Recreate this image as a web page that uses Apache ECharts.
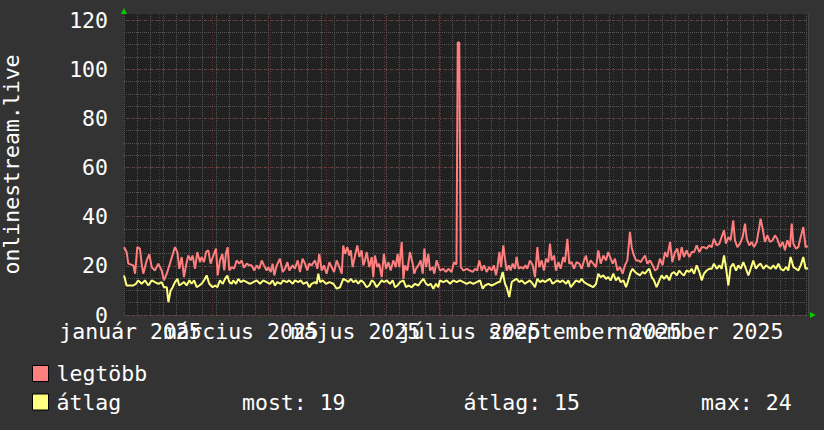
<!DOCTYPE html>
<html><head><meta charset="utf-8">
<script src="https://cdn.jsdelivr.net/npm/echarts@6/dist/echarts.min.js"></script>
<style>html,body{margin:0;padding:0;background:#333333;}#c{width:824px;height:430px;}</style>
</head><body><div id="c"></div>
<script>
// ---- data (x = days since 13 Jan 2025) ----
const seriesNames = ['legtöbb', 'átlag'];
const yAxisTitle = 'onlinestream.live';
const monthStartDays = [19, 47, 78, 108, 139, 169, 200, 231, 261, 292, 322, 353];
const labelDaysA = [3.5, 123.5, 246];
const labelTextsA = ['január 2025', 'május 2025', 'szeptember 2025'];
const labelDaysB = [62.5, 184.5, 307];
const labelTextsB = ['március 2025', 'július 2025', 'november 2025'];
const statTexts = ['most: 19', 'átlag: 15', 'max: 24'];

const maxDays = [0,1.4,2.3,5.0,5.9,7.1,8.5,9.4,10.3,12.1,13.5,14.8,16.5,18.3,20.1,21.3,22.8,24.5,27.2,28.5,29.5,30.8,32.0,33.1,34.3,35.6,36.6,37.9,39.1,40.6,41.4,42.7,43.8,45.0,46.2,47.7,49.1,50.0,51.2,52.5,53.5,54.4,55.3,56.2,57.5,58.7,60.1,61.5,62.8,64.0,65.5,66.9,68.1,69.5,70.8,72.2,73.5,74.7,76.1,77.0,78.3,79.3,80.2,81.5,83.2,84.7,85.9,87.2,88.2,90.0,91.2,92.7,93.9,95.3,96.6,97.8,98.9,100.1,101.9,103.2,104.2,105.5,106.7,108.1,109.6,110.8,112.1,113.5,114.9,116.2,117.0,117.9,119.2,120.2,121.0,122.0,123.3,124.5,125.6,126.8,127.7,128.6,129.5,130.9,132.2,133.0,133.9,135.2,136.2,137.5,138.7,139.8,141.1,142.3,143.7,145.0,146.0,146.9,148.2,149.1,149.9,151.2,152.6,153.9,154.9,155.8,157.1,158.3,159.4,160.3,161.2,162.4,163.3,164.7,165.6,166.8,168.6,170.4,171.8,173.1,174.8,176.1,177.4,178.1,178.9,179.7,181.1,182.9,184.6,186.1,187.3,188.5,189.6,190.9,192.1,193.5,194.9,196.2,197.4,198.5,199.2,200.3,201.2,202.4,203.3,204.2,205.4,206.3,207.4,208.6,209.5,210.6,211.7,213.1,214.2,215.2,216.6,218.1,219.3,220.6,221.6,222.9,224.1,225.2,226.4,227.3,228.2,229.5,230.5,231.8,233.0,234.4,235.3,236.6,237.6,238.9,240.1,241.5,243.0,244.2,245.5,246.5,247.8,249.0,250.4,251.9,253.1,254.4,255.8,257.2,258.4,259.7,260.8,262.0,263.3,264.7,266.1,267.3,268.6,270.0,270.9,271.8,273.2,274.5,275.7,276.8,278.0,279.3,280.7,282.1,283.4,284.6,286.0,287.4,288.7,289.9,291.4,292.6,294.0,295.3,296.3,297.6,298.8,300.2,301.7,302.9,304.2,305.6,307.0,308.3,309.5,310.9,312.3,313.6,314.8,316.3,317.7,318.9,320.2,321.2,322.5,323.7,325.1,326.0,327.3,328.7,330.1,331.4,332.3,333.7,334.9,336.2,337.6,339.0,339.7,340.8,342.0,343.3,344.7,346.1,347.4,348.6,350.1,351.5,352.7,354.0,355.4,356.3,357.2,358.6,359.8,361.1,362.5,363.7,365];
const maxVals = [27.6,25.6,20.9,20.2,16.8,27.6,27.0,20.9,16.8,22.2,24.7,19.5,18.1,20.9,18.1,14.1,16.8,20.9,27.6,25.6,18.8,23.6,15.4,20.2,24.2,22.2,24.2,18.8,25.6,21.5,23.6,21.5,25.6,26.3,20.9,24.2,27.0,16.1,22.2,24.9,18.1,24.9,27.6,18.1,19.5,18.8,22.2,20.9,22.2,19.2,20.9,20.2,20.2,18.1,20.2,18.8,22.2,20.2,18.1,19.5,17.5,20.9,16.1,20.2,22.9,17.5,18.8,21.5,18.1,20.2,18.8,22.2,17.5,22.9,20.9,18.1,20.9,20.2,22.2,18.8,24.9,18.1,20.2,16.8,21.5,19.5,17.5,22.2,19.5,16.8,28.3,24.9,27.6,24.2,26.3,19.5,24.2,28.3,23.6,26.3,20.2,22.2,25.6,19.5,23.6,15.4,24.2,19.5,20.9,15.4,24.9,18.8,21.5,18.1,22.2,19.5,24.9,19.5,29.7,14.7,20.2,18.1,25.6,21.5,16.8,18.8,20.2,22.2,16.8,27.0,19.5,24.9,18.1,19.5,16.8,22.2,18.1,18.8,17.5,18.8,17.5,21.5,20.5,110.9,110.9,19.5,18.1,18.8,18.1,17.5,18.8,18.1,22.2,18.1,20.2,17.5,19.5,18.1,20.2,16.1,18.8,25.6,19.5,28.3,22.9,18.1,20.2,18.1,20.9,18.8,23.6,18.8,19.5,18.8,20.2,18.8,22.2,20.2,15.4,27.6,19.5,22.2,18.1,22.9,21.5,29.0,22.2,24.2,18.1,21.5,18.8,23.6,21.5,31.0,20.9,21.5,18.8,21.5,20.9,18.8,22.2,24.2,19.5,22.2,20.9,19.5,26.3,20.9,24.2,22.2,25.6,22.9,20.9,22.9,18.1,19.5,16.8,20.2,22.2,33.8,27.6,24.9,22.2,22.2,21.5,22.9,24.2,20.9,22.2,20.2,18.1,18.8,22.9,20.2,25.6,23.6,29.7,21.5,25.6,27.0,22.2,27.6,23.6,26.3,23.6,25.6,25.6,28.3,25.6,27.6,27.6,27.0,28.3,27.6,31.0,28.3,29.0,31.7,34.4,29.0,31.7,30.4,38.5,30.4,27.6,29.0,31.7,37.2,31.0,28.3,29.7,27.6,29.7,35.8,39.2,35.1,29.7,32.4,29.7,30.4,32.4,31.0,27.6,29.7,26.3,30.4,27.6,37.2,29.0,27.0,27.6,31.7,35.8,27.6,28.0];

const avgDays = [0,1.4,5.0,6.4,7.6,9.4,11.2,13.0,14.8,16.5,18.3,20.1,21.3,22.8,23.7,24.9,26.0,27.2,28.5,29.5,30.8,32.0,33.4,34.9,36.1,37.4,38.8,40.2,41.4,42.7,44.1,45.5,47.3,48.6,49.8,51.2,52.7,53.9,55.1,56.2,57.5,58.3,59.8,61.0,62.3,63.7,65.5,67.2,69.0,70.8,72.6,74.3,76.1,77.9,79.3,80.6,81.8,83.6,85.0,86.8,88.2,90.0,91.2,93.0,94.3,95.7,97.5,98.9,100.1,101.9,102.8,103.7,104.6,106.0,107.8,109.6,111.7,113.5,115.3,117.0,118.5,119.7,121.0,122.4,123.8,125.0,126.3,127.7,129.5,130.9,132.2,133.4,134.8,136.2,137.5,138.7,140.2,141.9,143.4,144.6,145.9,147.3,149.1,150.5,151.7,153.5,155.3,157.1,158.3,159.7,161.2,162.4,163.6,165.1,166.5,167.7,168.6,170.4,172.2,174.0,175.7,177.5,179.3,181.1,182.9,184.6,186.4,188.2,190.0,191.4,192.6,194.4,196.2,198.0,199.7,200.6,202.1,203.3,204.2,205.6,206.9,208.1,209.5,211.0,212.2,214.0,215.2,216.6,218.1,219.3,220.6,222.0,223.4,224.7,225.9,227.3,228.7,230.0,231.2,232.7,234.1,235.9,237.1,238.4,239.8,241.2,243.0,244.2,245.5,246.9,248.7,250.4,251.9,253.1,254.4,255.8,257.2,258.4,259.7,261.1,262.5,263.8,265.0,266.5,267.9,269.1,270.4,271.4,272.7,273.9,275.3,276.8,278.0,279.3,280.3,281.6,282.8,284.2,285.7,286.9,288.2,289.6,291.0,292.2,293.5,294.9,296.3,297.6,298.8,300.2,301.7,302.9,304.2,305.6,307.0,308.3,309.5,310.9,312.3,313.6,314.8,316.3,317.7,318.9,320.2,321.2,322.5,323.7,325.1,326.6,327.8,329.1,330.5,331.9,333.2,334.4,335.8,337.2,338.5,339.7,341.2,342.6,343.8,345.1,346.5,347.9,349.2,350.4,351.8,353.3,354.5,355.7,357.2,358.6,359.8,361.1,362.5,363.7,365];
const avgVals = [16.1,12.0,12.0,12.7,14.1,12.7,14.1,12.0,14.1,13.4,12.7,13.4,11.3,11.3,5.2,10.0,11.3,13.4,14.7,12.0,12.7,13.4,12.0,14.1,12.7,14.1,11.3,12.0,12.7,14.1,16.1,12.7,11.3,12.0,11.3,14.1,12.7,14.7,16.1,13.4,12.7,14.1,12.7,14.7,13.4,14.1,13.4,12.7,13.4,14.1,12.7,14.1,13.4,12.7,14.1,12.0,13.4,12.7,14.1,13.4,14.1,12.7,14.1,13.4,14.1,12.7,13.4,11.3,12.7,13.4,12.7,16.8,13.4,14.1,12.7,13.4,12.7,10.7,11.3,14.7,14.1,13.4,14.7,13.4,14.1,12.7,14.1,13.4,11.3,12.0,14.1,13.4,11.3,12.7,14.1,13.4,14.1,12.7,14.1,11.3,12.0,13.4,14.1,11.3,12.0,11.3,12.7,12.0,13.4,14.7,12.7,12.0,12.7,10.7,12.7,11.3,14.1,13.4,14.1,12.7,14.1,13.4,14.1,13.4,12.7,13.4,12.7,13.4,14.1,10.7,12.0,12.7,12.0,12.7,13.4,13.4,17.5,12.7,11.3,7.3,13.4,14.1,14.7,13.4,14.1,12.7,13.4,14.1,12.7,11.3,14.7,13.4,14.1,13.4,14.1,14.7,12.7,13.4,14.1,13.4,14.1,12.7,14.1,11.3,12.7,14.1,13.4,14.7,13.4,12.7,12.0,11.3,12.7,16.8,15.4,16.1,14.7,15.4,14.1,16.8,14.1,15.4,13.4,14.1,11.3,14.1,17.5,18.8,17.5,16.8,16.1,17.5,16.8,18.1,18.8,15.4,14.1,11.3,14.1,16.1,14.7,16.1,14.1,16.8,17.5,16.1,18.1,16.8,16.1,18.1,17.5,18.8,16.8,20.2,17.5,14.1,16.8,18.1,18.8,18.8,20.9,18.8,20.2,18.8,24.2,19.5,12.0,19.5,20.9,18.1,20.2,18.8,21.5,18.8,16.1,18.8,22.2,18.8,20.2,20.9,18.8,20.2,19.5,18.8,20.2,18.8,20.9,18.8,18.1,19.5,18.1,23.6,19.5,18.8,18.1,20.2,23.6,18.8,19.0];

// ---- chart ----
const FONT = 'DejaVu Sans Mono';
const FS = 21.5;
const RED_GRID = '#7a2e2e';
const GRAY_GRID = '#565656';
const chart = echarts.init(document.getElementById('c'), null, {renderer: 'svg'});

function labelFmt(days, texts) {
  return function (v) {
    for (let i = 0; i < days.length; i++) if (Math.abs(days[i] - v) < 0.01) return texts[i];
    return '';
  };
}

const baseX = {type: 'value', min: 0, max: 365, position: 'bottom', offset: 0};
const baseY = {type: 'value', min: 0, max: 122.45, position: 'left', offset: 0};

chart.setOption({
  animation: false,
  backgroundColor: '#333333',
  textStyle: {fontFamily: FONT},
  grid: {left: 124, right: 16, top: 14, bottom: 115, show: true, backgroundColor: '#212121', borderWidth: 0, containLabel: false, outerBoundsMode: 'none'},
  title: statTexts.map((t, i) => ({
    text: t, left: [242, 463.5, 701][i], top: 391.25, padding: 0,
    textStyle: {color: '#ffffff', fontFamily: FONT, fontSize: FS, fontWeight: 'normal'}
  })),
  legend: {
    data: seriesNames, orient: 'vertical', left: 32, top: 362.5, padding: 0,
    itemWidth: 16, itemHeight: 16, itemGap: 6.5, icon: 'rect', selectedMode: false,
    itemStyle: {borderColor: '#000000', borderWidth: 1},
    textStyle: {color: '#ffffff', fontFamily: FONT, fontSize: FS, padding: [0, 0, 0, 3]}
  },
  xAxis: [
    Object.assign({}, baseX, {
      interval: 7, z: 0,
      axisLine: {show: true, symbol: ['none', 'triangle'], symbolSize: [6, 6], symbolOffset: [0, 5], lineStyle: {color: '#00cc00', width: 0}},
      axisTick: {show: false}, axisLabel: {show: false},
      splitLine: {show: true, lineStyle: {color: GRAY_GRID, width: 1, type: [1, 1]}}
    }),
    Object.assign({}, baseX, {
      z: 1,
      axisLine: {show: false},
      axisTick: {show: false, customValues: monthStartDays},
      axisLabel: {show: true, customValues: labelDaysA, formatter: labelFmt(labelDaysA, labelTextsA), color: '#ffffff', fontFamily: FONT, fontSize: FS, margin: 5},
      splitLine: {show: true, lineStyle: {color: RED_GRID, width: 1, type: [1, 2]}}
    }),
    Object.assign({}, baseX, {
      z: 1,
      axisLine: {show: false},
      axisTick: {show: false},
      axisLabel: {show: true, customValues: labelDaysB, formatter: labelFmt(labelDaysB, labelTextsB), color: '#ffffff', fontFamily: FONT, fontSize: FS, margin: 5},
      splitLine: {show: false}
    })
  ],
  yAxis: [
    Object.assign({}, baseY, {
      interval: 20, z: 1,
      name: yAxisTitle, nameLocation: 'middle', nameRotate: 90, nameGap: 102,
      nameTextStyle: {color: '#ffffff', fontFamily: FONT, fontSize: FS},
      axisLine: {show: true, symbol: ['none', 'triangle'], symbolSize: [6, 6], symbolOffset: [0, 3], lineStyle: {color: '#00cc00', width: 0}},
      axisTick: {show: false},
      axisLabel: {color: '#ffffff', fontFamily: FONT, fontSize: FS, margin: 16, formatter: v => (v % 20 === 0 ? String(v) : '')},
      splitLine: {show: true, showMaxLine: false, lineStyle: {color: RED_GRID, width: 1, type: [1, 2]}}
    }),
    Object.assign({}, baseY, {
      interval: 5, z: 0,
      axisLine: {show: false}, axisTick: {show: false}, axisLabel: {show: false},
      splitLine: {show: true, showMaxLine: false, lineStyle: {color: GRAY_GRID, width: 1, type: [1, 1]}}
    })
  ],
  series: [
    {
      type: 'line', name: seriesNames[0], xAxisIndex: 0, yAxisIndex: 0,
      data: maxDays.map((d, i) => [d, maxVals[i]]),
      showSymbol: false, symbol: 'none', z: 3,
      lineStyle: {color: '#ff7f7f', width: 2}, itemStyle: {color: '#ff7f7f'}
    },
    {
      type: 'line', name: seriesNames[1], xAxisIndex: 0, yAxisIndex: 0,
      data: avgDays.map((d, i) => [d, avgVals[i]]),
      showSymbol: false, symbol: 'none', z: 4,
      lineStyle: {color: '#ffff7f', width: 2}, itemStyle: {color: '#ffff7f'}
    }
  ]
});
</script>
</body></html>
